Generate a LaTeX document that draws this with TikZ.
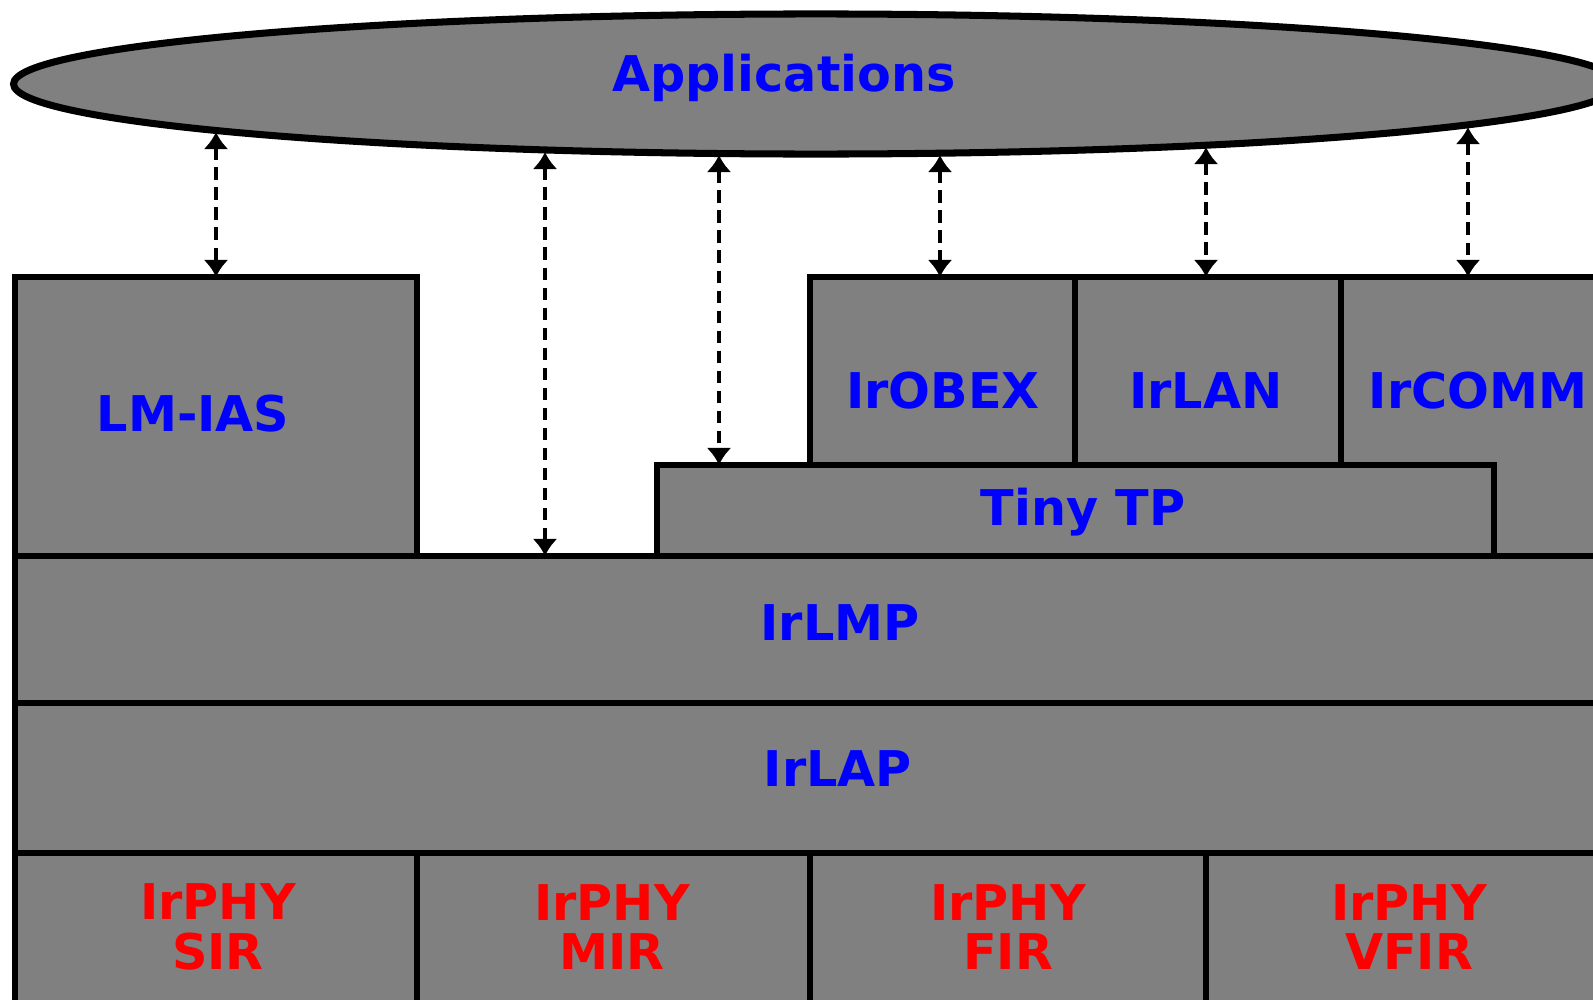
\documentclass[tikz,border=0pt]{standalone}
\usepackage{fontspec}
\setmainfont{DejaVu Sans}
\usepackage{tikz}
\usetikzlibrary{positioning,calc,fit,shapes.geometric}
\usetikzlibrary{arrows.meta}
\definecolor{StackGray}{RGB}{128,128,128}
\definecolor{ProtoBlue}{RGB}{0,0,255}
\definecolor{PhyRed}{RGB}{255,0,0}
\tikzset{
	layer/.style={rectangle,draw=black,fill=StackGray,line width=1.5pt,inner sep=0pt,outer sep=0pt},
	appshape/.style={ellipse,draw=black,fill=StackGray,line width=2pt,inner sep=0pt,
		minimum width=16.04cm,minimum height=1.40cm},
	proto/.style={text=ProtoBlue,font=\bfseries\fontsize{14}{14}\selectfont,
		text height=10.2pt,text depth=0pt,inner sep=0pt},
	phy/.style={text=PhyRed,font=\bfseries\fontsize{14}{14}\selectfont,align=center,inner sep=0pt},
	link/.style={{Latex[width=0.25cm,length=0.17cm]}-{Latex[width=0.25cm,length=0.17cm]},
		line width=1pt,dash pattern=on 3.5pt off 2.2pt},
}

\begin{document}
\begin{tikzpicture}[x=0.01cm,y=-0.01cm]
			\fill[white] (0,0) rectangle (1593,1000);
			\useasboundingbox (0,0) rectangle (1593,1000);
			\clip (0,0) rectangle (1593,1000);
			% top ellipse
			\node[appshape] (app) at (816,84) {};
			\node[proto] (apptxt) at (784,74) {Applications};
			% upper protocols
			\node[layer,fit={(15,277) (417,556)}] (lmias) {};
			\node[layer,fit={(1341,277) (1700,556)}] (ircomm) {};
			\node[layer,fit={(810,277) (1075,465)}] (irobex) {};
			\node[layer,fit={(1075,277) (1341,465)}] (irlan) {};
			\node[layer,fit={(657,465) (1494,556)}] (tinytp) {};
			% core layers
			\node[layer,fit={(15,556) (1700,703)}] (irlmp) {};
			\node[layer,fit={(15,703) (1700,853)}] (irlap) {};
			\node[layer,fit={(15,853) (417,1020)}] (sir) {};
			\node[layer,fit={(417,853) (810,1020)}] (mir) {};
			\node[layer,fit={(810,853) (1206,1020)}] (fir) {};
			\node[layer,fit={(1206,853) (1700,1020)}] (vfir) {};
			% labels
			\node[proto] (lmiastxt) at (193,414) {LM-IAS};
			\node[proto] (irobextxt) at (943,391) {IrOBEX};
			\node[proto] (irlantxt) at (1206,391) {IrLAN};
			\node[proto] (ircommtxt) at (1478,391) {IrCOMM};
			\node[proto] (tinytptxt) at (1083,508) {Tiny TP};
			\node[proto] (irlmptxt) at (840,623) {IrLMP};
			\node[proto] (irlaptxt) at (838,769) {IrLAP};
			\node[phy] (sirtxt) at (218,927) {IrPHY\\SIR};
			\node[phy] (mirtxt) at (612,927) {IrPHY\\MIR};
			\node[phy] (firtxt) at (1008,927) {IrPHY\\FIR};
			\node[phy] (vfirtxt) at (1409,927) {IrPHY\\VFIR};
			% service access arrows
			\coordinate (t1) at (216,132);
			\coordinate (t2) at (545,152);
			\coordinate (t3) at (719,155);
			\coordinate (t4) at (940,155);
			\coordinate (t5) at (1206,147);
			\coordinate (t6) at (1468,127);
			\draw[link] (t1) -- (t1 |- lmias.north);
			\draw[link] (t2) -- (t2 |- irlmp.north);
			\draw[link] (t3) -- (t3 |- tinytp.north);
			\draw[link] (t4) -- (t4 |- irobex.north);
			\draw[link] (t5) -- (t5 |- irlan.north);
			\draw[link] (t6) -- (t6 |- ircomm.north);
		\end{tikzpicture}
\end{document}
